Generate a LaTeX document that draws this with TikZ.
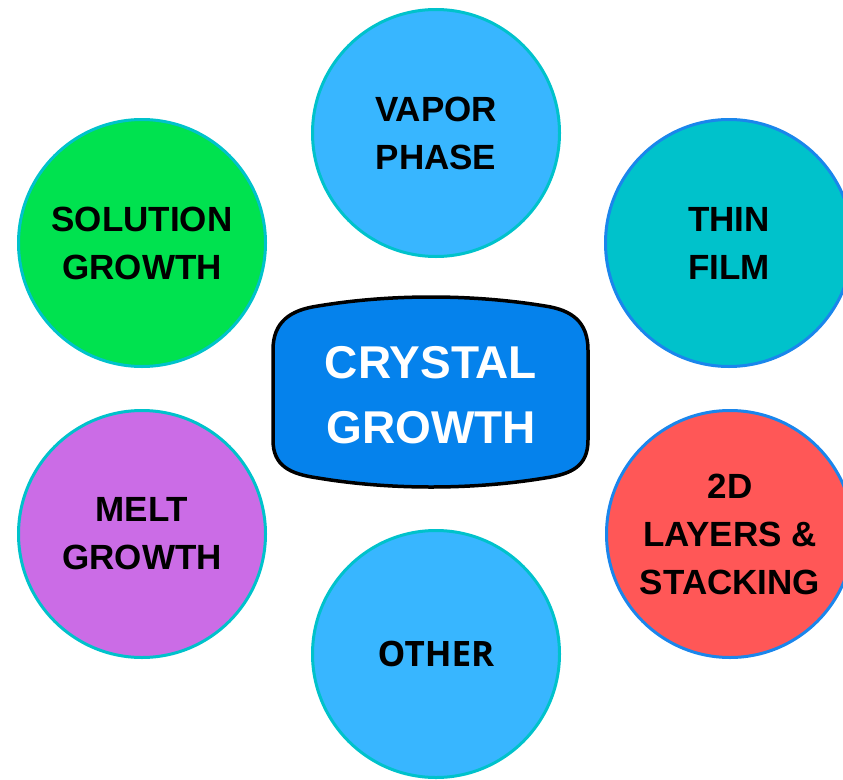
\documentclass[tikz,border=0pt]{standalone}
\usepackage{fontspec}
\setmainfont{Liberation Sans}
\newfontfamily\opensans{Open Sans}
\usepackage{tikz}
\usetikzlibrary{shapes.geometric}
\definecolor{skyfill}{HTML}{38B6FF}
\definecolor{tealline}{HTML}{00C2CB}
\definecolor{blueline}{HTML}{1A86EC}
\definecolor{greenfill}{HTML}{00E24F}
\definecolor{redfill}{HTML}{FF5757}
\definecolor{violetfill}{HTML}{CB6CE6}
\definecolor{hubfill}{HTML}{0582EC}
\tikzstyle{bubble} = [circle, minimum size=247pt, inner sep=0pt, line width=3pt, draw=tealline, text centered, align=center, font=\fontsize{35}{48}\selectfont\bfseries]
\tikzstyle{hub} = [draw=black, line width=3.5pt, fill=hubfill]

\begin{document}
\begin{tikzpicture}[x=1pt, y=-1pt]
		\useasboundingbox (0,0) rectangle (843,779);
		%\fill[white] (0,0) rectangle (843,779);
		\node (vapor) [bubble, fill=skyfill] at (436,133) {VAPOR\\PHASE};
		\node (solution) [bubble, fill=greenfill] at (142,243) {SOLUTION\\GROWTH};
		\node (thin) [bubble, fill=tealline, draw=blueline] at (729,243) {THIN\\FILM};
		\node (melt) [bubble, fill=violetfill] at (142,534) {MELT\\GROWTH};
		\node (layers) [bubble, fill=redfill, draw=blueline] at (730,534) {2D\\LAYERS \&\\STACKING};
		\node (other) [bubble, fill=skyfill] at (436,654) {\opensans\bfseries OTHER};
		
		% center plate with bulging top and bottom
		\draw [hub] (273,440) -- (273,350)
			.. controls (273,322) and (290,310) .. (318,306)
			.. controls (390,294) and (472,294) .. (545,306)
			.. controls (572,310) and (588,322) .. (588,350)
			-- (588,440)
			.. controls (588,466) and (572,474) .. (545,478)
			.. controls (472,490) and (390,490) .. (318,478)
			.. controls (290,474) and (273,466) .. (273,440) -- cycle;
		\node (core) [text=white, align=center, font=\fontsize{46}{65}\selectfont\bfseries] at (431,395) {CRYSTAL\\GROWTH};
			
\end{tikzpicture}
\end{document}
